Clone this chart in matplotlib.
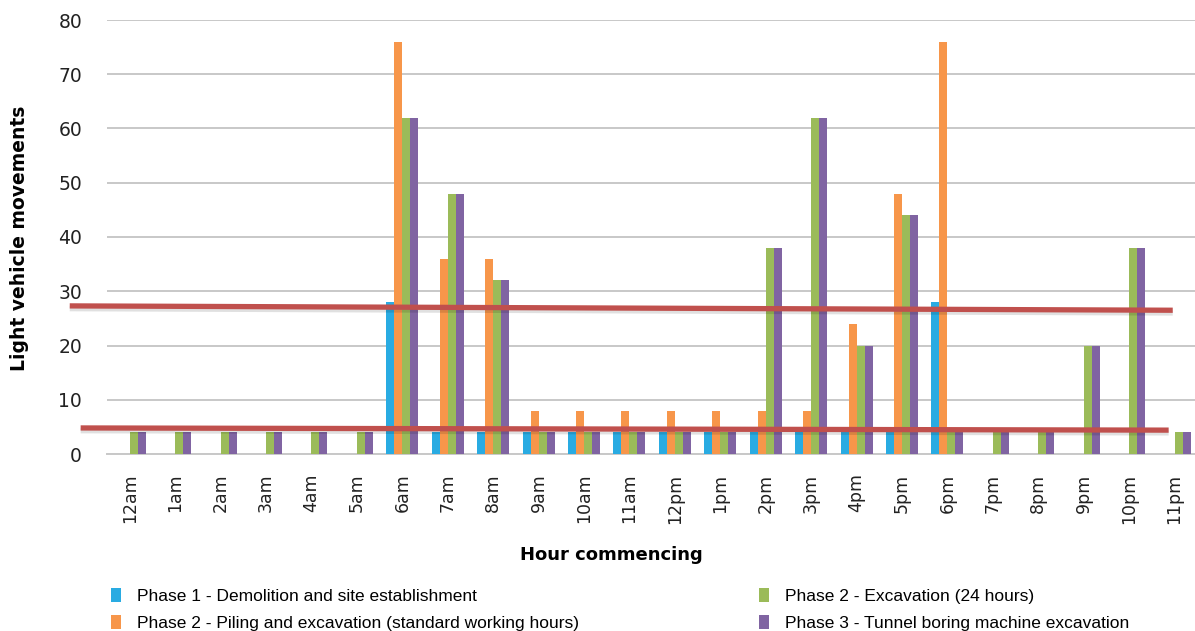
"""Light vehicle movements by hour commencing, per construction phase."""

import matplotlib

matplotlib.use("Agg")
import matplotlib.pyplot as plt  # noqa: E402
import matplotlib.patheffects as pe  # noqa: E402
import numpy as np  # noqa: E402

HOURS = ["12am", "1am", "2am", "3am", "4am", "5am", "6am", "7am", "8am", "9am",
         "10am", "11am", "12pm", "1pm", "2pm", "3pm", "4pm", "5pm", "6pm", "7pm",
         "8pm", "9pm", "10pm", "11pm"]

phase1_demolition = [0, 0, 0, 0, 0, 0, 28, 4, 4, 4, 4, 4, 4, 4, 4, 4, 4, 4, 28, 0, 0, 0, 0, 0]
phase2_piling = [0, 0, 0, 0, 0, 0, 76, 36, 36, 8, 8, 8, 8, 8, 8, 8, 24, 48, 76, 0, 0, 0, 0, 0]
phase2_excavation = [4, 4, 4, 4, 4, 4, 62, 48, 32, 4, 4, 4, 4, 4, 38, 62, 20, 44, 4, 4, 4, 20, 38, 4]
phase3_tbm = [4, 4, 4, 4, 4, 4, 62, 48, 32, 4, 4, 4, 4, 4, 38, 62, 20, 44, 4, 4, 4, 20, 38, 4]

SERIES = [
    ("Phase 1 - Demolition and site establishment", phase1_demolition, "#29abe2"),
    ("Phase 2 - Piling and excavation (standard working hours)", phase2_piling, "#f7964a"),
    ("Phase 2 - Excavation (24 hours)", phase2_excavation, "#9bbb59"),
    ("Phase 3 - Tunnel boring machine excavation", phase3_tbm, "#8064a2"),
]

# hand-drawn red reference lines laid over the chart: (x0, y0, x1, y1) in data units
RED_LINES = [(-1.32, 27.3, 22.96, 26.5), (-1.08, 4.8, 22.87, 4.4)]

TEXT_FONT = ["DejaVu Sans"]
LEGEND_FONT = ["Liberation Sans", "DejaVu Sans"]

fig = plt.figure(figsize=(11.95, 6.31), dpi=100)
ax = fig.add_axes([107 / 1195, 1 - 454 / 631, 1 - 107 / 1195, (454 - 20) / 631])

x = np.arange(len(HOURS))
w = 0.176
offsets = [-1.5, -0.5, 0.5, 1.5]
bars = []
for (label, vals, color), off in zip(SERIES, offsets):
    b = ax.bar(x + off * w, vals, w, color=color, label=label, zorder=3)
    bars.append(b)

ax.set_xlim(-0.5, 23.45)
ax.set_ylim(0, 80)
ax.set_yticks(range(0, 81, 10))
ax.yaxis.grid(True, color="#c8c8c8", lw=1.4, zorder=0)
ax.set_axisbelow(True)
for s in ["top", "right", "left"]:
    ax.spines[s].set_visible(False)
ax.spines["bottom"].set_color("#c8c8c8")
ax.spines["bottom"].set_linewidth(1.4)
ax.tick_params(length=0)
ax.tick_params(axis="y", pad=18, labelsize=13.5, labelcolor="#222222")
ax.set_xticks(x)
ax.set_xticklabels(HOURS, rotation=90, fontsize=12.5, color="#222222",
                   family=TEXT_FONT)
ax.tick_params(axis="x", pad=14)
for t in ax.get_yticklabels():
    t.set_family(TEXT_FONT)

ax.set_ylabel("Light vehicle movements", fontsize=13.5, fontweight="semibold",
              family=TEXT_FONT)
ax.yaxis.set_label_coords(-0.0815 + 11 / 1088, 0.497)
fig.text(611 / 1195, 1 - 555 / 631, "Hour commencing", ha="center", va="center",
         fontsize=13, fontweight="bold", family=TEXT_FONT)

for x0, y0, x1, y1 in RED_LINES:
    ax.plot([x0, x1], [y0, y1], color="#c0504d", lw=3.8, solid_capstyle="butt",
            clip_on=False, zorder=5,
            path_effects=[pe.SimpleLineShadow(offset=(0, -2), alpha=0.12),
                          pe.Normal()])

leg_kw = dict(frameon=False, handlelength=0.6, handleheight=0.9,
              handletextpad=0.9, labelspacing=0.6, borderaxespad=0,
              prop={"family": LEGEND_FONT, "size": 12.5})
fig.legend([bars[0], bars[1]], [SERIES[0][0], SERIES[1][0]], loc="upper left",
           bbox_to_anchor=(104 / 1195, 1 - 581 / 631), **leg_kw)
fig.legend([bars[2], bars[3]], [SERIES[2][0], SERIES[3][0]], loc="upper left",
           bbox_to_anchor=(752 / 1195, 1 - 581 / 631), **leg_kw)

fig.savefig("out.png", dpi=100)
